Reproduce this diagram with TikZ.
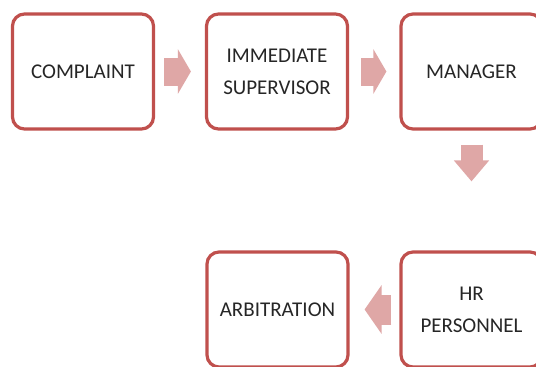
\documentclass[tikz,border=0pt]{standalone}
\usepackage{fontspec}
\setmainfont{Carlito}
\usetikzlibrary{arrows.meta}

\definecolor{boxred}{RGB}{192,80,77}
\definecolor{arrowpink}{RGB}{223,167,166}
\definecolor{txtgray}{RGB}{38,38,38}

\begin{document}
\begin{tikzpicture}[x=1pt, y=-1pt,
        step box/.style={draw=boxred, line width=3.2pt, rounded corners=12pt, fill=white,
            minimum width=141pt, minimum height=115pt, align=center, text=txtgray,
            font=\fontsize{21}{32}\selectfont},
        flow/.style={draw=arrowpink, line width=28pt,
            -{Triangle[length=13pt, width=44pt, fill=arrowpink]}}]
        \clip (0,0) rectangle (536,367);
        \fill[white] (0,0) rectangle (536,367);

        \node[step box, name=complaint] at (83,71.5) {COMPLAINT};
        \node[step box, name=supervisor] at (277,71.5) {IMMEDIATE\\SUPERVISOR};
        \node[step box, name=manager] at (471.5,71.5) {MANAGER};
        \node[step box, name=hr] at (471.5,309.5) {HR\\PERSONNEL};
        \node[step box, name=arbitration] at (277.5,309.5) {ARBITRATION};

        \draw[flow, shorten <=9pt, shorten >=14pt] (complaint.east) -- (supervisor.west);
        \draw[flow, shorten <=12pt, shorten >=13pt] (supervisor.east) -- (manager.west);
        \draw[flow, line width=22pt, -{Triangle[length=21pt, width=34pt, fill=arrowpink]},
            shorten <=14pt, shorten >=69pt] (manager.south) -- (hr.north);
        \draw[flow, line width=30pt, -{Triangle[length=17pt, width=48pt, fill=arrowpink]},
            shorten <=8pt, shorten >=15pt] (hr.west) -- (arbitration.east);
\end{tikzpicture}
\end{document}
